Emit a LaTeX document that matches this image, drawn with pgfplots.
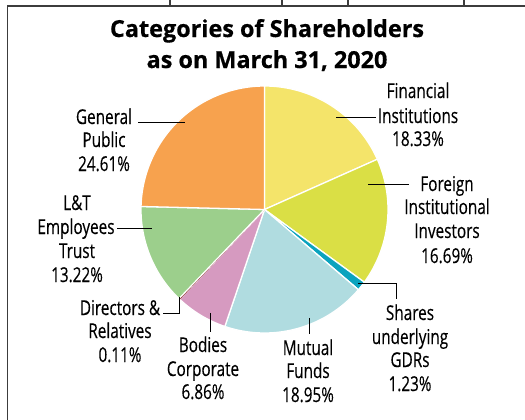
\documentclass[border=0pt]{standalone}
\usepackage{pgfplots}
\pgfplotsset{compat=1.18}
\usepackage{fontspec}
\setmainfont{Open Sans}
\newfontfamily\labfont[FakeStretch=0.75, FakeBold=0.3]{Open Sans}
\newfontfamily\titfont[BoldFeatures={FakeBold=0.6}]{Open Sans}
\definecolor{cFI}{HTML}{F4E46A}
\definecolor{cFII}{HTML}{DADF45}
\definecolor{cGDR}{HTML}{0BA3BE}
\definecolor{cMF}{HTML}{B0DCE0}
\definecolor{cBC}{HTML}{D69AC0}
\definecolor{cDIR}{HTML}{8E2A2A}
\definecolor{cLT}{HTML}{9CCF8C}
\definecolor{cGP}{HTML}{F7A24E}
\definecolor{frame}{HTML}{3C3C3C}
% shares (percent), clockwise from 12 o'clock
\def\pFI{18.33}\def\pFII{16.69}\def\pGDR{1.23}\def\pMF{18.95}
\def\pBC{6.86}\def\pDIR{0.11}\def\pLT{13.22}\def\pGP{24.61}
\def\cx{264.5}\def\cy{210.5}\def\R{123.5}
\pgfmathsetmacro\sB{\pFI}
\pgfmathsetmacro\sC{\sB+\pFII}
\pgfmathsetmacro\sD{\sC+\pGDR}
\pgfmathsetmacro\sE{\sD+\pMF}
\pgfmathsetmacro\sF{\sE+\pBC}
\pgfmathsetmacro\sG{\sF+\pDIR}
\pgfmathsetmacro\sH{\sG+\pLT}
\newcommand\wedgeplot[3]{% start%, share%, colour
  \pgfmathsetmacro\aA{90-3.6*#1}\pgfmathsetmacro\aB{90-3.6*(#1+#2)}
  \addplot[fill=#3, draw=white, line width=1.3pt, line join=round, domain=\aB:\aA, samples=60, smooth]
    ({\cx+\R*cos(x)},{\cy+\R*sin(x)}) -- (axis cs:\cx,\cy) -- cycle;
}
\newcommand\lab[3]{\node[anchor=base, inner sep=0pt, font=\labfont\fontsize{20.5}{22}\selectfont] at (axis cs:#1,#2) {#3};}
\begin{document}
\begin{tikzpicture}
\begin{axis}[at={(0,0)}, anchor=south west, scale only axis, width=525bp, height=420bp,
  xmin=0, xmax=525, ymin=0, ymax=420, hide axis, clip=false]
% frame (table borders)
\draw[frame, line width=1.6pt] (axis cs:7.5,-5) -- (axis cs:7.5,414) -- (axis cs:530,414);
\draw[frame, line width=1.6pt] (axis cs:170,414) -- (axis cs:170,425);
\draw[frame, line width=1.6pt] (axis cs:282,414) -- (axis cs:282,425);
\draw[frame, line width=1.6pt] (axis cs:348,414) -- (axis cs:348,425);
\draw[frame, line width=1.6pt] (axis cs:464,414) -- (axis cs:464,425);
% wedges
\wedgeplot{0}{\pFI}{cFI}
\wedgeplot{\sB}{\pFII}{cFII}
\wedgeplot{\sC}{\pGDR}{cGDR}
\wedgeplot{\sD}{\pMF}{cMF}
\wedgeplot{\sE}{\pBC}{cBC}
\pgfmathsetmacro\aA{90-3.6*\sF}\pgfmathsetmacro\aB{90-3.6*\sG}
\addplot[fill=cDIR, draw=cDIR, line width=0.8pt, domain=\aB:\aA, samples=5]
    ({\cx+\R*cos(x)},{\cy+\R*sin(x)}) -- (axis cs:\cx,\cy) -- cycle;
\wedgeplot{\sG}{\pLT}{cLT}
\wedgeplot{\sH}{\pGP}{cGP}
% title
\node[anchor=base, inner sep=0pt, font=\titfont\bfseries\fontsize{23.5}{26}\selectfont] at (axis cs:267,383) {Categories of Shareholders};
\node[anchor=base, inner sep=0pt, font=\titfont\bfseries\fontsize{23.5}{26}\selectfont] at (axis cs:267,352) {as on March 31, 2020};
% leader lines
\draw[black, line width=0.9pt] (axis cs:336,303) -- (axis cs:376,303);
\draw[black, line width=0.9pt] (axis cs:368,236) -- (axis cs:409,236);
\draw[black, line width=0.9pt] (axis cs:358,137) -- (axis cs:396,137) -- (axis cs:396,121);
\draw[black, line width=0.9pt] (axis cs:309,102) -- (axis cs:309,86);
\draw[black, line width=0.9pt] (axis cs:210,107) -- (axis cs:210,88);
\draw[black, line width=0.9pt] (axis cs:179,123) -- (axis cs:179,107) -- (axis cs:163,107);
\draw[black, line width=0.9pt] (axis cs:117,192) -- (axis cs:152,192);
\draw[black, line width=0.9pt] (axis cs:138,298) -- (axis cs:185,298);
% labels
\lab{418}{322}{Financial}\lab{418}{297}{Institutions}\lab{418}{274}{18.33\%}
\lab{447}{229}{Foreign}\lab{447}{206}{Institutional}\lab{447}{182}{Investors}\lab{447}{157}{16.69\%}
\lab{410}{100}{Shares}\lab{410}{76}{underlying}\lab{410}{53}{GDRs}\lab{410}{29}{1.23\%}
\lab{308}{65}{Mutual}\lab{308}{42}{Funds}\lab{308}{18}{18.95\%}
\lab{203}{68}{Bodies}\lab{203}{44}{Corporate}\lab{203}{21}{6.86\%}
\lab{120}{105}{Directors \&}\lab{120}{82}{Relatives}\lab{120}{58}{0.11\%}
\lab{77}{210}{L\&T}\lab{76}{186}{Employees}\lab{77}{162}{Trust}\lab{77}{138}{13.22\%}
\lab{104}{296}{General}\lab{104}{273}{Public}\lab{104}{249}{24.61\%}
\end{axis}
\pgfresetboundingbox
\path[use as bounding box] (0,0) rectangle (525bp,420bp);
\end{tikzpicture}
\end{document}
